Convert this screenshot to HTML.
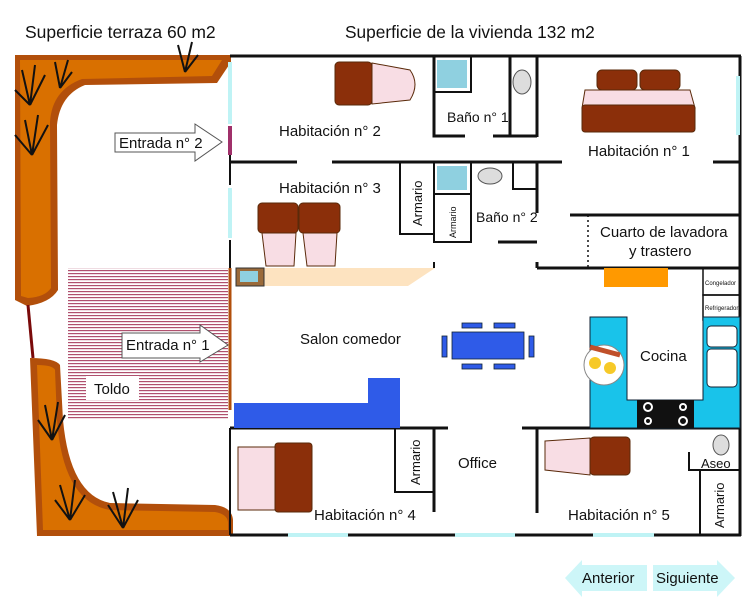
<!DOCTYPE html>
<html><head><meta charset="utf-8"><style>
html,body{margin:0;padding:0;background:#fff;width:750px;height:597px;overflow:hidden}
svg{display:block}
text{font-family:"Liberation Sans",sans-serif;fill:#111}
</style></head><body>
<svg width="750" height="597" viewBox="0 0 750 597" xmlns="http://www.w3.org/2000/svg">
<defs>
<pattern id="st" width="4" height="3" patternUnits="userSpaceOnUse"><rect width="4" height="3" fill="#fff"/><rect width="4" height="1.2" fill="#b0506e"/></pattern>
</defs>
<text x="25" y="38" font-size="17.5">Superficie terraza 60 m2</text>
<text x="345" y="38" font-size="17.3">Superficie de la vivienda 132 m2</text>

<!-- terrace planters -->
<path d="M15,55 L231,55 L231,62 L217,83 L85,85 Q60,95 57,125 L58,290 Q50,303 27,306 L15,300 Z" fill="#b24f0b"/>
<path d="M20,60 L222,60 L212,76 L82,79 Q52,90 50,122 L51,288 Q45,297 28,298 L21,296 Z" fill="#d97000"/>
<line x1="28" y1="305" x2="33" y2="358" stroke="#7a0a0a" stroke-width="3"/>
<path d="M30,358 Q55,358 60,365 L63,420 Q70,495 110,503 L215,505 Q232,507 233,520 L233,536 L37,536 Z" fill="#b24f0b"/>
<path d="M37,365 Q53,365 55,370 L57,420 Q63,502 110,510 L215,512 Q227,514 228,522 L228,530 L43,530 Z" fill="#d97000"/>
<g stroke="#111" stroke-width="2" fill="none">
<path d="M30,105 L22,70 M30,105 L35,65 M30,105 L45,75 M30,105 L15,90"/>
<path d="M60,88 L55,62 M60,88 L68,60 M60,88 L72,72"/>
<path d="M185,72 L178,45 M185,72 L192,42 M185,72 L198,55"/>
<path d="M32,155 L25,120 M32,155 L38,115 M32,155 L48,125 M32,155 L15,135"/>
<path d="M52,440 L45,405 M52,440 L58,402 M52,440 L65,415 M52,440 L38,420"/>
<path d="M70,520 L60,485 M70,520 L75,480 M70,520 L85,495 M70,520 L55,500"/>
<path d="M123,528 L113,492 M123,528 L128,488 M123,528 L138,500 M123,528 L108,505"/>
</g>

<!-- toldo -->
<rect x="68" y="268" width="160" height="152" fill="url(#st)"/>
<rect x="86" y="376" width="53" height="24" fill="#fff"/>
<text x="94" y="394" font-size="15">Toldo</text>
<line x1="230" y1="268" x2="230" y2="410" stroke="#b24f0b" stroke-width="3"/>

<!-- entrada arrows -->
<path d="M122,333 L200,333 L200,325 L228,345 L200,362 L200,358 L122,358 Z" fill="#fff" stroke="#555"/>
<text x="126" y="350" font-size="15">Entrada n° 1</text>
<path d="M115,133 L195,133 L195,124 L222,142 L195,161 L195,152 L115,152 Z" fill="#fff" stroke="#555"/>
<text x="119" y="148" font-size="15">Entrada n° 2</text>

<!-- walls -->
<g stroke="#111" stroke-width="3" fill="none">
<line x1="230" y1="56" x2="741" y2="56"/>
<line x1="740" y1="56" x2="740" y2="536"/>
<line x1="230" y1="535" x2="741" y2="535"/>
<line x1="230" y1="428" x2="230" y2="535" stroke-width="2"/>
<line x1="230" y1="155" x2="230" y2="185" stroke-width="2"/>
<line x1="230" y1="240" x2="230" y2="268" stroke-width="2"/>
<line x1="230" y1="162" x2="297" y2="162"/>
<line x1="332" y1="162" x2="562" y2="162"/>
<line x1="713" y1="162" x2="740" y2="162"/>
<polyline points="434,56 434,136 465,136"/>
<line x1="493" y1="136" x2="537" y2="136"/>
<line x1="510" y1="56" x2="510" y2="136"/>
<line x1="537" y1="56" x2="537" y2="137"/>
<rect x="434" y="56" width="37" height="36" stroke-width="2"/>
<rect x="400" y="162" width="34" height="72" stroke-width="2"/>
<rect x="434" y="162" width="37" height="32" stroke-width="2"/>
<rect x="434" y="194" width="37" height="48" stroke-width="2"/>
<line x1="537" y1="162" x2="537" y2="213"/>
<rect x="513" y="162" width="24" height="27" stroke-width="2"/>
<line x1="498" y1="242" x2="537" y2="242"/>
<line x1="570" y1="215" x2="740" y2="215"/>
<line x1="537" y1="268" x2="740" y2="268"/>
<line x1="537" y1="262" x2="537" y2="268"/>
<line x1="434" y1="262" x2="434" y2="268" stroke-width="2"/>
<rect x="703" y="268" width="37" height="27" stroke-width="1.5"/>
<rect x="703" y="295" width="37" height="25" stroke-width="1.5"/>
<line x1="230" y1="428" x2="448" y2="428"/>
<rect x="395" y="428" width="39" height="64" stroke-width="2"/>
<line x1="434" y1="428" x2="434" y2="512"/>
<line x1="522" y1="428" x2="740" y2="428"/>
<line x1="537" y1="428" x2="537" y2="513"/>
<polyline points="689,452 689,470 740,470" stroke-width="2"/>
<rect x="700" y="470" width="40" height="65" stroke-width="2"/>
</g>
<line x1="588" y1="215" x2="588" y2="268" stroke="#111" stroke-width="1.5" stroke-dasharray="2,3"/>
<!-- windows -->
<g stroke="#bff3f5" stroke-width="4">
<line x1="230" y1="62" x2="230" y2="124"/>
<line x1="230" y1="188" x2="230" y2="238"/>
<line x1="738" y1="76" x2="738" y2="135"/>
<line x1="288" y1="535" x2="348" y2="535"/>
<line x1="455" y1="535" x2="515" y2="535"/>
<line x1="593" y1="535" x2="654" y2="535"/>
</g>
<line x1="230" y1="126" x2="230" y2="155" stroke="#a0306a" stroke-width="4"/>

<!-- furniture -->
<path d="M236,268 L435,268 L408,286 L236,286 Z" fill="#fde3c0"/>
<rect x="236" y="268" width="28" height="18" fill="#9a6a3a" stroke="#333"/>
<rect x="240" y="271" width="18" height="11" fill="#8fd0e0"/>
<rect x="604" y="268" width="64" height="19" fill="#ff9900"/>
<path d="M234,403 L368,403 L368,378 L400,378 L400,428 L234,428 Z" fill="#2f5be8"/>
<g fill="#2f5be8" stroke="#123" stroke-width="0.8">
<rect x="452" y="332" width="72" height="27"/>
<rect x="462" y="323" width="20" height="5"/><rect x="494" y="323" width="21" height="5"/>
<rect x="462" y="364" width="20" height="5"/><rect x="494" y="364" width="21" height="5"/>
<rect x="442" y="336" width="5" height="21"/><rect x="529" y="336" width="5" height="21"/>
</g>
<path d="M590,317 L627,317 L627,400 L703,400 L703,317 L740,317 L740,428 L590,428 Z" fill="#19c3ea" stroke="#123" stroke-width="1"/>
<rect x="637" y="400" width="57" height="28" fill="#111"/>
<g fill="none" stroke="#fff" stroke-width="2"><circle cx="648" cy="407" r="4"/><circle cx="648" cy="421" r="3"/><circle cx="683" cy="407" r="3"/><circle cx="683" cy="421" r="4"/></g>
<rect x="707" y="326" width="30" height="21" rx="4" fill="#fff" stroke="#123"/>
<rect x="707" y="349" width="30" height="38" rx="4" fill="#fff" stroke="#123"/>
<ellipse cx="604" cy="365" rx="20" ry="20" fill="#fff" stroke="#888"/>
<circle cx="595" cy="363" r="6" fill="#f6c928"/><circle cx="610" cy="368" r="6" fill="#f6c928"/>
<path d="M590,347 L620,355" stroke="#c0502a" stroke-width="5"/>

<!-- beds -->
<g stroke="#5a2a0a" stroke-width="1">
<rect x="335" y="62" width="37" height="43" rx="4" fill="#8b2f0a"/>
<path d="M372,63 L410,70 Q420,84 410,100 L372,104 Z" fill="#f8dde4"/>
<rect x="258" y="203" width="40" height="30" rx="4" fill="#8b2f0a"/>
<rect x="299" y="203" width="41" height="30" rx="4" fill="#8b2f0a"/>
<path d="M262,233 L296,233 L294,266 L266,266 Z" fill="#f8dde4"/>
<path d="M303,233 L337,233 L335,266 L307,266 Z" fill="#f8dde4"/>
<path d="M585,90 L690,90 L695,108 L582,108 Z" fill="#f8dde4"/>
<rect x="597" y="70" width="40" height="20" rx="5" fill="#8b2f0a"/>
<rect x="640" y="70" width="40" height="20" rx="5" fill="#8b2f0a"/>
<rect x="582" y="105" width="113" height="27" rx="3" fill="#8b2f0a"/>
<rect x="275" y="443" width="37" height="69" rx="3" fill="#8b2f0a"/>
<path d="M238,447 L275,447 L275,510 L238,510 Z" fill="#f8dde4"/>
<rect x="590" y="437" width="40" height="38" rx="4" fill="#8b2f0a"/>
<path d="M545,441 L590,438 L590,475 L545,470 Z" fill="#f8dde4"/>
</g>
<g fill="#8fd0e0"><rect x="437" y="60" width="30" height="28"/><rect x="437" y="166" width="30" height="24"/></g>
<ellipse cx="522" cy="82" rx="9" ry="12" fill="#ddd" stroke="#555"/>
<ellipse cx="490" cy="176" rx="12" ry="8" fill="#ddd" stroke="#555"/>
<ellipse cx="721" cy="445" rx="8" ry="10" fill="#ddd" stroke="#555"/>

<!-- labels -->
<g font-size="15">
<text x="279" y="136">Habitación n° 2</text>
<text x="279" y="193">Habitación n° 3</text>
<text x="447" y="122" font-size="14">Baño n° 1</text>
<text x="476" y="222" font-size="14">Baño n° 2</text>
<text x="588" y="156">Habitación n° 1</text>
<text x="600" y="237">Cuarto de lavadora</text>
<text x="629" y="256">y trastero</text>
<text x="300" y="344">Salon comedor</text>
<text x="640" y="361">Cocina</text>
<text x="458" y="468">Office</text>
<text x="314" y="520">Habitación n° 4</text>
<text x="568" y="520">Habitación n° 5</text>
<text x="701" y="468" font-size="13">Aseo</text>
</g>
<g font-size="13">
<text transform="translate(422,226) rotate(-90)">Armario</text>
<text transform="translate(420,485) rotate(-90)">Armario</text>
<text transform="translate(724,528) rotate(-90)">Armario</text>
<text transform="translate(456,238) rotate(-90)" font-size="9">Armario</text>
</g>
<text x="705" y="285" font-size="6">Congelador</text>
<text x="705" y="310" font-size="6">Refrigerador</text>

<!-- nav -->
<path d="M565,578 L582,560 L582,565 L647,565 L647,591 L582,591 L582,597 Z" fill="#cdf6f8"/>
<path d="M653,565 L717,565 L717,560 L735,578 L717,597 L717,591 L653,591 Z" fill="#cdf6f8"/>
<text x="582" y="583" font-size="15">Anterior</text>
<text x="656" y="583" font-size="15">Siguiente</text>
</svg>
</body></html>
